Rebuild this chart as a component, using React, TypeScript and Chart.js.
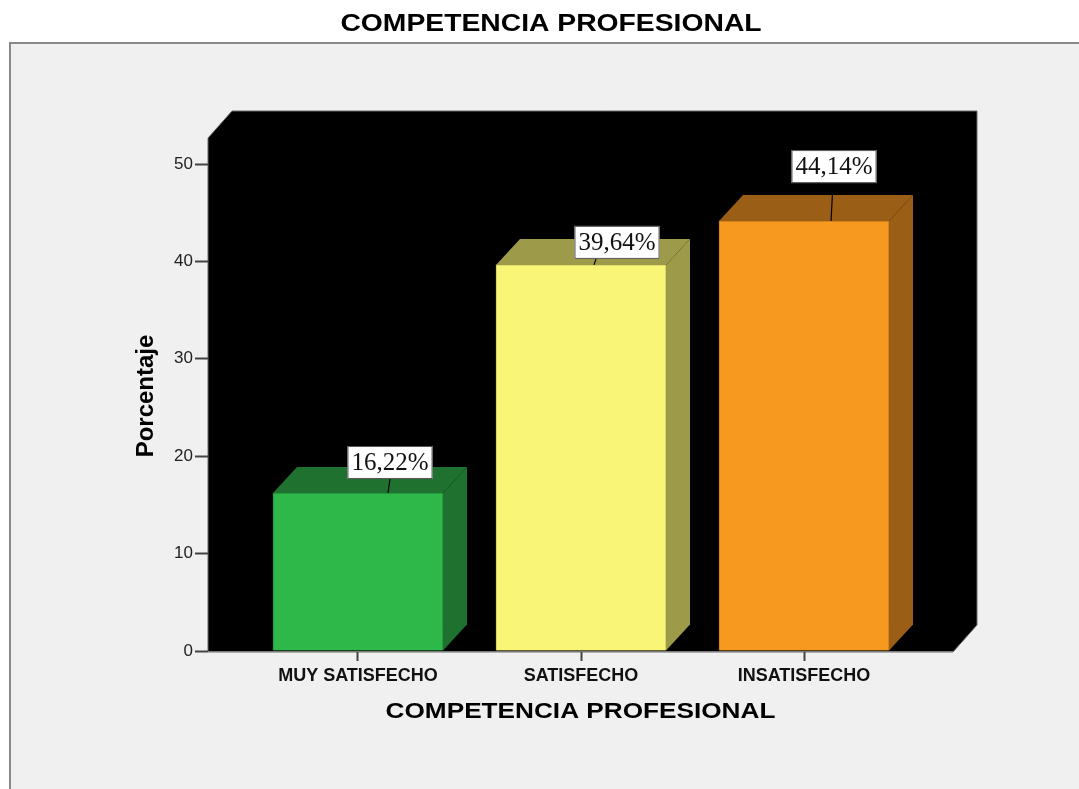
import React, { useEffect, useRef } from "react";
import { Chart, registerables } from "chart.js";

Chart.register(...registerables);

const categories = ["MUY SATISFECHO", "SATISFECHO", "INSATISFECHO"];
const percentages = [16.22, 39.64, 44.14];
const yTicks = [0, 10, 20, 30, 40, 50];

const chartTitle = "COMPETENCIA PROFESIONAL";
const xAxisTitle = "COMPETENCIA PROFESIONAL";
const yAxisTitle = "Porcentaje";

const frontColors = ["#2eb84a", "#f9f577", "#f7981f"];
const sideColors = ["#1f7130", "#9d9b4a", "#9b5e16"];
const edgeColors = ["#23903a", "#c9c65f", "#c97a18"];

// label placement (box centre offset from bar centre, box bottom above bar top, leader x offset)
const labelDx = [32, 36, 30];
const labelDy = [14, 6, 38];
const leaderDx = [31, 14, 28];

const DEPTH_X = 24;
const DEPTH_Y = 26;

const fmt = (v: number) => v.toFixed(2).replace(".", ",") + "%";

const backdropPlugin = {
  id: "backdrop",
  beforeDraw(chart: any) {
    const { ctx, chartArea } = chart;
    const W = chart.width;
    const H = chart.height;
    ctx.save();
    ctx.fillStyle = "#ffffff";
    ctx.fillRect(0, 0, W, H);
    ctx.fillStyle = "#f0f0f0";
    ctx.fillRect(9, 42, W - 9, H - 42);
    ctx.strokeStyle = "#8a8a8a";
    ctx.lineWidth = 2;
    ctx.beginPath();
    ctx.moveTo(10, H);
    ctx.lineTo(10, 43);
    ctx.lineTo(W, 43);
    ctx.stroke();

    const y = chart.scales.y;
    const l = chartArea.left;
    const r = chartArea.right;
    const b = y.getPixelForValue(0) + 1;
    const t = chartArea.top - DEPTH_Y;
    ctx.fillStyle = "#000000";
    ctx.strokeStyle = "#6a6a6a";
    ctx.lineWidth = 1;
    ctx.beginPath();
    ctx.moveTo(l, t);
    ctx.lineTo(l + DEPTH_X, t - DEPTH_Y - 1);
    ctx.lineTo(r + DEPTH_X, t - DEPTH_Y - 1);
    ctx.lineTo(r + DEPTH_X, b - DEPTH_Y - 1);
    ctx.lineTo(r, b);
    ctx.lineTo(l, b);
    ctx.closePath();
    ctx.fill();
    ctx.stroke();
    ctx.restore();
  },
  afterDatasetsDraw(chart: any) {
    const { ctx } = chart;
    const meta = chart.getDatasetMeta(0);
    ctx.save();
    meta.data.forEach((bar: any, i: number) => {
      const left = bar.x - bar.width / 2;
      const right = bar.x + bar.width / 2;
      const top = bar.y;
      const base = bar.base;
      ctx.fillStyle = sideColors[i];
      ctx.beginPath();
      ctx.moveTo(left, top);
      ctx.lineTo(left + DEPTH_X, top - DEPTH_Y);
      ctx.lineTo(right + DEPTH_X, top - DEPTH_Y);
      ctx.lineTo(right, top);
      ctx.closePath();
      ctx.fill();
      ctx.beginPath();
      ctx.moveTo(right, top);
      ctx.lineTo(right + DEPTH_X, top - DEPTH_Y);
      ctx.lineTo(right + DEPTH_X, base - DEPTH_Y);
      ctx.lineTo(right, base);
      ctx.closePath();
      ctx.fill();
    });
    meta.data.forEach((bar: any, i: number) => {
      const text = fmt(percentages[i]);
      ctx.font = "25px 'Liberation Serif', 'Times New Roman', serif";
      const tw = ctx.measureText(text).width;
      const bw = tw + 8;
      const bh = 33;
      const cx = bar.x + labelDx[i];
      const bottom = bar.y - labelDy[i];
      const lx = bar.x + leaderDx[i];
      ctx.strokeStyle = "#000000";
      ctx.lineWidth = 1.2;
      ctx.beginPath();
      ctx.moveTo(lx + 1, bottom);
      ctx.lineTo(lx - 1, bar.y);
      ctx.stroke();
      ctx.fillStyle = "#ffffff";
      ctx.fillRect(cx - bw / 2, bottom - bh, bw, bh);
      ctx.strokeStyle = "#555555";
      ctx.lineWidth = 1;
      ctx.strokeRect(cx - bw / 2 + 0.5, bottom - bh + 0.5, bw - 1, bh - 1);
      ctx.fillStyle = "#111111";
      ctx.textAlign = "center";
      ctx.textBaseline = "middle";
      ctx.fillText(text, cx, bottom - bh / 2 + 1);
    });
    ctx.restore();
  },
  afterDraw(chart: any) {
    const { ctx, chartArea } = chart;
    ctx.save();
    ctx.fillStyle = "#000000";
    ctx.textAlign = "center";
    ctx.textBaseline = "middle";
    ctx.font = "bold 23px 'Liberation Sans', Arial, sans-serif";
    ctx.save();
    ctx.translate(551, 25);
    ctx.scale(1.23, 1);
    ctx.fillText(chartTitle, 0, 0);
    ctx.restore();
    ctx.font = "bold 22px 'Liberation Sans', Arial, sans-serif";
    ctx.save();
    ctx.translate((chartArea.left + chartArea.right) / 2, 712);
    ctx.scale(1.19, 1);
    ctx.fillText(xAxisTitle, 0, 0);
    ctx.restore();
    ctx.font = "bold 24px 'Liberation Sans', Arial, sans-serif";
    ctx.save();
    ctx.translate(146, 396);
    ctx.rotate(-Math.PI / 2);
    ctx.fillText(yAxisTitle, 0, 0);
    ctx.restore();
    ctx.restore();
  },
};

export default function App() {
  const canvasRef = useRef<HTMLCanvasElement | null>(null);

  useEffect(() => {
    if (!canvasRef.current) return;
    const chart = new Chart(canvasRef.current, {
      type: "bar",
      data: {
        datasets: [
          {
            data: percentages.map((v, i) => ({ x: i, y: v })),
            backgroundColor: frontColors,
            borderColor: edgeColors,
            borderWidth: 1,
            barThickness: 170,
          },
        ],
      },
      options: {
        responsive: false,
        animation: false,
        events: [],
        layout: { padding: { left: 0, right: 126, top: 164, bottom: 78 } },
        plugins: {
          legend: { display: false },
          tooltip: { enabled: false },
          title: { display: false },
        },
        scales: {
          x: {
            type: "linear",
            offset: false,
            min: -0.6726,
            max: 2.668,
            afterFit: (s: any) => {
              s.height = 60;
            },
            afterBuildTicks: (s: any) => {
              s.ticks = categories.map((_, i) => ({ value: i }));
            },
            ticks: {
              autoSkip: false,
              maxRotation: 0,
              padding: 4,
              color: "#111111",
              font: { family: "'Liberation Sans', Arial, sans-serif", size: 18, weight: "bold" },
              callback: (v: any) => categories[v as number] ?? "",
            },
            grid: {
              display: true,
              offset: false,
              drawOnChartArea: false,
              drawTicks: true,
              tickLength: 10,
              tickColor: "#444444",
              tickWidth: 2,
            },
            border: { display: true, color: "#7a7a7a", width: 1 },
          },
          y: {
            min: 0,
            max: 50,
            afterFit: (s: any) => {
              s.width = 208;
            },
            afterBuildTicks: (s: any) => {
              s.ticks = yTicks.map((v) => ({ value: v }));
            },
            ticks: {
              padding: 2,
              color: "#222222",
              font: { family: "'Liberation Sans', Arial, sans-serif", size: 17 },
            },
            grid: {
              display: true,
              drawOnChartArea: false,
              drawTicks: true,
              tickLength: 13,
              tickColor: "#444444",
              tickWidth: 2,
            },
            border: { display: false },
          },
        },
      },
      plugins: [backdropPlugin],
    } as any);
    return () => chart.destroy();
  }, []);

  return (
    <div style={{ position: "fixed", left: 0, top: 0, width: 1079, height: 789 }}>
      <canvas ref={canvasRef} width={1079} height={789} style={{ display: "block" }} />
    </div>
  );
}
